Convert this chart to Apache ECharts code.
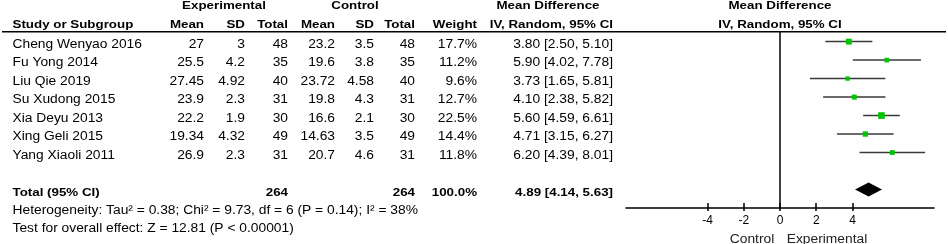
<!DOCTYPE html>
<html><head><meta charset="utf-8">
<script src="https://cdn.jsdelivr.net/npm/echarts@6/dist/echarts.min.js"></script>
<style>html,body{margin:0;padding:0;background:#fff}#c{width:948px;height:244px}</style>
</head><body><div id="c"></div>
<script>
// ---------------- data ----------------
const studies   = ['Cheng Wenyao 2016','Fu Yong 2014','Liu Qie 2019','Su Xudong 2015','Xia Deyu 2013','Xing Geli 2015','Yang Xiaoli 2011'];
const expMean   = [27, 25.5, 27.45, 23.9, 22.2, 19.34, 26.9];
const expSD     = [3, 4.2, 4.92, 2.3, 1.9, 4.32, 2.3];
const expN      = [48, 35, 40, 31, 30, 49, 31];
const ctlMean   = [23.2, 19.6, 23.72, 19.8, 16.6, 14.63, 20.7];
const ctlSD     = [3.5, 3.8, 4.58, 4.3, 2.1, 3.5, 4.6];
const ctlN      = [48, 35, 40, 31, 30, 49, 31];
const weights   = [17.7, 11.2, 9.6, 12.7, 22.5, 14.4, 11.8];
const md        = [3.80, 5.90, 3.73, 4.10, 5.60, 4.71, 6.20];
const ciLow     = [2.50, 4.02, 1.65, 2.38, 4.59, 3.15, 4.39];
const ciHigh    = [5.10, 7.78, 5.81, 5.82, 6.61, 6.27, 8.01];
const totalLabel = 'Total (95% CI)';
const totalExpN = 264, totalCtlN = 264, totalWeight = 100.0;
const totalMd = 4.89, totalLow = 4.14, totalHigh = 5.63;
const heterogeneityText = 'Heterogeneity: Tau\u00b2 = 0.38; Chi\u00b2 = 9.73, df = 6 (P = 0.14); I\u00b2 = 38%';
const overallText = 'Test for overall effect: Z = 12.81 (P < 0.00001)';
const tickValues = [-4, -2, 0, 2, 4];
const favoursLeft = 'Control', favoursRight = 'Experimental';
// row order (blank row before total)
const rowLabels = [...studies, '', totalLabel];
const totalRowIdx = rowLabels.length - 1;

// ---------------- layout / style ----------------
const FAM = '"Liberation Sans", Arial, sans-serif';
const FONT_R = '12px ' + FAM;
const FONT_B = 'bold 11.5px ' + FAM;
const SX_R = 1.15, SX_B = 1.16;
const INK = '#000';
const COL = {studyL: 12.5, expMean: 204, expSD: 245, expN: 288, ctlMean: 335, ctlSD: 374, ctlN: 415, weight: 477, ci: 613};
const fmt2 = v => v.toFixed(2);
const ciText = (m, l, h) => fmt2(m) + ' [' + fmt2(l) + ', ' + fmt2(h) + ']';

const tableRows = studies.map((s, i) => ({
  idx: i, bold: false,
  cells: [
    [s, COL.studyL, 'left'],
    [String(expMean[i]), COL.expMean, 'right'],
    [String(expSD[i]), COL.expSD, 'right'],
    [String(expN[i]), COL.expN, 'right'],
    [String(ctlMean[i]), COL.ctlMean, 'right'],
    [String(ctlSD[i]), COL.ctlSD, 'right'],
    [String(ctlN[i]), COL.ctlN, 'right'],
    [weights[i].toFixed(1) + '%', COL.weight, 'right'],
    [ciText(md[i], ciLow[i], ciHigh[i]), COL.ci, 'right']
  ]
}));
tableRows.push({
  idx: totalRowIdx, bold: true,
  cells: [
    [totalLabel, COL.studyL, 'left'],
    [String(totalExpN), COL.expN, 'right'],
    [String(totalCtlN), COL.ctlN, 'right'],
    [totalWeight.toFixed(1) + '%', COL.weight, 'right'],
    [ciText(totalMd, totalLow, totalHigh), COL.ci, 'right']
  ]
});

function txt(text, x, y, align, bold, color) {
  return {
    type: 'text', x: x, y: y, scaleX: bold ? SX_B : SX_R, silent: true,
    style: {text: text, font: bold ? FONT_B : FONT_R, fill: color || INK,
      align: align, textAlign: align, verticalAlign: 'middle', textVerticalAlign: 'middle'}
  };
}

const Y_MIN = -0.52, Y_MAX = 9.0;
const chart = echarts.init(document.getElementById('c'), null, {renderer: 'canvas'});

const option = {
  animation: false,
  backgroundColor: '#fff',
  grid: [
    {left: 626, right: 14, top: 32, bottom: 36, containLabel: false, outerBoundsMode: 'none'},
    {left: 0, right: 0, top: 32, bottom: 36, containLabel: false, outerBoundsMode: 'none'}
  ],
  xAxis: [
    {type: 'value', gridIndex: 0, position: 'bottom', min: -8.5, max: 8.5,
      axisLine: {show: true, onZero: false, lineStyle: {color: INK, width: 1.5}},
      axisTick: {show: true, inside: true, length: 5, customValues: tickValues, lineStyle: {color: INK, width: 1.5}},
      axisLabel: {show: true, customValues: tickValues, margin: 7, color: INK, fontSize: 12, fontFamily: FAM},
      splitLine: {show: false}},
    {type: 'value', gridIndex: 0, position: 'bottom', min: -8.5, max: 8.5,
      axisLine: {show: false, onZero: false},
      axisTick: {show: true, inside: false, length: 3, customValues: tickValues, lineStyle: {color: INK, width: 1.5}},
      axisLabel: {show: false}, splitLine: {show: false}},
    {type: 'value', gridIndex: 1, min: 0, max: 948, show: false}
  ],
  yAxis: [
    {type: 'value', gridIndex: 0, inverse: true, min: Y_MIN, max: Y_MAX,
      axisLine: {show: true, onZero: true, lineStyle: {color: INK, width: 1.5}},
      axisTick: {show: false}, axisLabel: {show: false}, splitLine: {show: false}},
    {type: 'value', gridIndex: 1, inverse: true, min: Y_MIN, max: Y_MAX, show: false}
  ],
  series: [
    { // table text
      type: 'custom', xAxisIndex: 2, yAxisIndex: 1, clip: false, silent: true,
      data: tableRows.map(r => [0, r.idx]),
      encode: {x: 0, y: 1},
      renderItem: function (params, api) {
        const r = tableRows[params.dataIndex];
        const y = api.coord([0, r.idx])[1] + 3;
        return {type: 'group', children: r.cells.map(c =>
          txt(c[0], api.coord([c[1], r.idx])[0], y, c[2], r.bold))};
      }
    },
    { // study estimates
      type: 'custom', xAxisIndex: 0, yAxisIndex: 0, clip: false, silent: true,
      data: md.map((m, i) => [m, ciLow[i], ciHigh[i], i, weights[i]]),
      encode: {x: [0, 1, 2], y: 3},
      renderItem: function (params, api) {
        const idx = api.value(3);
        const pL = api.coord([api.value(1), idx]);
        const pH = api.coord([api.value(2), idx]);
        const pM = api.coord([api.value(0), idx]);
        const s = 1.4 * Math.sqrt(api.value(4));
        return {type: 'group', children: [
          {type: 'line', shape: {x1: pL[0], y1: pL[1], x2: pH[0], y2: pH[1]}, style: {stroke: '#3a3a3a', lineWidth: 1.5}},
          {type: 'rect', shape: {x: pM[0] - s / 2, y: pM[1] - s / 2, width: s, height: s}, style: {fill: '#00c400'}}
        ]};
      }
    },
    { // pooled diamond
      type: 'custom', xAxisIndex: 0, yAxisIndex: 0, clip: false, silent: true,
      data: [[totalMd, totalLow, totalHigh, totalRowIdx]],
      encode: {x: [0, 1, 2], y: 3},
      renderItem: function (params, api) {
        const idx = api.value(3);
        const pL = api.coord([api.value(1), idx]);
        const pH = api.coord([api.value(2), idx]);
        const pM = api.coord([api.value(0), idx]);
        return {type: 'polygon', shape: {points: [pL, [pM[0], pM[1] - 7], pH, [pM[0], pM[1] + 7]]}, style: {fill: '#000'}};
      }
    }
  ],
  graphic: [
    {type: 'line', silent: true, shape: {x1: 2, y1: 31.8, x2: 946, y2: 31.8}, style: {stroke: INK, lineWidth: 1.5}},
    txt('Experimental', 224, 6, 'center', true),
    txt('Control', 355, 6, 'center', true),
    txt('Mean Difference', 548, 6, 'center', true),
    txt('Mean Difference', 780, 6, 'center', true),
    txt('Study or Subgroup', COL.studyL, 25, 'left', true),
    txt('Mean', COL.expMean, 25, 'right', true),
    txt('SD', COL.expSD, 25, 'right', true),
    txt('Total', COL.expN, 25, 'right', true),
    txt('Mean', COL.ctlMean, 25, 'right', true),
    txt('SD', COL.ctlSD, 25, 'right', true),
    txt('Total', COL.ctlN, 25, 'right', true),
    txt('Weight', COL.weight, 25, 'right', true),
    txt('IV, Random, 95% CI', COL.ci, 25, 'right', true),
    txt('IV, Random, 95% CI', 780, 25, 'center', true),
    txt(heterogeneityText, COL.studyL, 210.5, 'left', false),
    txt(overallText, COL.studyL, 229, 'left', false),
    txt(favoursLeft, 752, 240, 'center', false, '#222'),
    txt(favoursRight, 827, 240, 'center', false, '#222')
  ]
};
chart.setOption(option);
</script>
</body></html>
